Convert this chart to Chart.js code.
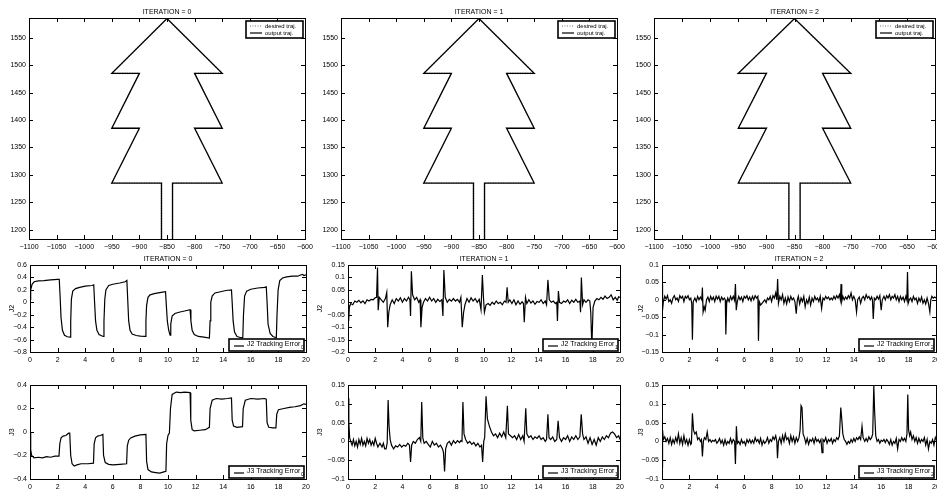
<!DOCTYPE html>
<html>
<head>
<meta charset="utf-8">
<script src="https://cdn.jsdelivr.net/npm/chart.js@4.4.0/dist/chart.umd.min.js"></script>
<style>
  body { margin: 0; width: 937px; height: 492px; overflow: hidden; background: #fff; position: relative; }
  canvas { position: absolute; }
</style>
</head>
<body>
<script>
// ---- data ----
// tree outline (desired path), vertices in (x, y)
const treeX = [-860, -860, -950, -900, -950, -900, -950, -850, -750, -800, -750, -800, -750, -840, -840];
const treeY = [1183, 1285, 1285, 1385, 1385, 1485, 1485, 1585, 1485, 1485, 1385, 1385, 1285, 1285, 1183];

const treeXTicks = [-1100, -1050, -1000, -950, -900, -850, -800, -750, -700, -650, -600];
const treeYTicks = [1200, 1250, 1300, 1350, 1400, 1450, 1500, 1550];
const timeTicks = [0, 2, 4, 6, 8, 10, 12, 14, 16, 18, 20];

const iterations = [0, 1, 2];

// tracking errors: [time, value]
const j2Iter0 = [[0,0.05],[0.05,0.2],[0.15,0.29],[0.3,0.33],[0.6,0.345],[1.0,0.35],[1.5,0.36],[2.0,0.37],[2.12,0.37],[2.18,0.1],[2.25,-0.25],[2.35,-0.45],[2.5,-0.53],[2.7,-0.555],[2.9,-0.56],[2.95,-0.3],[3.0,0.05],[3.1,0.18],[3.3,0.22],[3.6,0.24],[4.0,0.26],[4.5,0.27],[4.62,0.28],[4.68,0.0],[4.75,-0.3],[4.85,-0.45],[5.0,-0.52],[5.3,-0.55],[5.36,-0.3],[5.42,0.05],[5.5,0.2],[5.7,0.27],[6.0,0.29],[6.5,0.31],[6.9,0.33],[7.02,0.35],[7.08,0.05],[7.15,-0.3],[7.25,-0.45],[7.4,-0.51],[7.7,-0.535],[8.0,-0.545],[8.35,-0.55],[8.4,-0.3],[8.45,-0.05],[8.55,0.08],[8.7,0.12],[9.0,0.14],[9.5,0.16],[9.82,0.17],[9.88,-0.05],[9.95,-0.3],[10.05,-0.45],[10.15,-0.53],[10.2,-0.35],[10.3,-0.22],[10.5,-0.18],[10.8,-0.16],[11.2,-0.14],[11.6,-0.12],[11.66,-0.3],[11.75,-0.45],[11.9,-0.52],[12.2,-0.55],[12.6,-0.56],[13.0,-0.575],[13.05,-0.3],[13.1,0.0],[13.2,0.1],[13.4,0.15],[13.8,0.17],[14.2,0.19],[14.6,0.2],[14.65,0.0],[14.72,-0.3],[14.82,-0.48],[15.0,-0.55],[15.3,-0.57],[15.42,-0.57],[15.47,-0.2],[15.55,0.1],[15.7,0.18],[16.0,0.21],[16.5,0.23],[17.0,0.24],[17.12,0.25],[17.18,0.0],[17.25,-0.35],[17.4,-0.5],[17.6,-0.55],[17.85,-0.57],[17.9,-0.2],[17.98,0.2],[18.1,0.35],[18.3,0.39],[18.6,0.41],[19.0,0.42],[19.4,0.42],[19.6,0.44],[19.75,0.45],[19.85,0.43],[20.0,0.44]];

const j3Iter0 = [[0,0.0],[0.05,-0.15],[0.12,-0.2],[0.3,-0.22],[0.6,-0.215],[0.9,-0.22],[1.2,-0.21],[1.5,-0.215],[1.8,-0.205],[2.1,-0.205],[2.16,-0.1],[2.25,-0.05],[2.4,-0.035],[2.6,-0.03],[2.8,-0.01],[2.88,-0.01],[2.95,-0.2],[3.05,-0.27],[3.2,-0.29],[3.4,-0.28],[3.7,-0.27],[4.2,-0.27],[4.6,-0.265],[4.65,-0.1],[4.75,-0.05],[4.9,-0.035],[5.1,-0.03],[5.28,-0.02],[5.33,-0.2],[5.45,-0.26],[5.7,-0.275],[6.0,-0.28],[6.5,-0.275],[7.0,-0.27],[7.05,-0.12],[7.15,-0.07],[7.3,-0.05],[7.6,-0.035],[8.0,-0.025],[8.4,-0.02],[8.45,-0.25],[8.55,-0.32],[8.8,-0.34],[9.1,-0.345],[9.4,-0.35],[9.7,-0.34],[9.85,-0.335],[9.9,-0.1],[10.0,-0.03],[10.1,-0.01],[10.18,0.2],[10.3,0.32],[10.6,0.34],[10.9,0.335],[11.2,0.34],[11.6,0.335],[11.65,0.1],[11.75,0.02],[11.9,0.01],[12.3,0.015],[12.7,0.02],[13.0,0.04],[13.05,0.2],[13.2,0.27],[13.5,0.285],[13.9,0.28],[14.3,0.285],[14.6,0.29],[14.65,0.1],[14.75,0.05],[15.0,0.04],[15.4,0.045],[15.45,0.2],[15.6,0.27],[16.0,0.285],[16.5,0.28],[17.0,0.285],[17.12,0.28],[17.18,0.08],[17.3,0.04],[17.6,0.035],[17.82,0.035],[17.88,0.15],[18.0,0.19],[18.4,0.2],[18.8,0.21],[19.2,0.215],[19.6,0.225],[19.85,0.24],[20,0.235]];

const j2Iter1 = [[0,-0.01],[0.05,-0.075],[0.1,-0.02],[0.2,-0.005],[0.35,-0.01],[0.5,0.005],[0.65,0.0],[0.8,0.008],[0.95,-0.002],[1.1,0.006],[1.25,-0.005],[1.4,0.01],[1.55,0.005],[1.7,0.012],[1.85,0.01],[2.0,0.018],[2.1,0.02],[2.17,0.14],[2.22,-0.032],[2.3,0.02],[2.45,0.01],[2.6,0.0],[2.75,0.015],[2.85,0.04],[2.92,-0.1],[3.0,-0.04],[3.1,-0.01],[3.25,0.01],[3.4,-0.005],[3.55,0.015],[3.7,0.005],[3.85,0.018],[4.0,0.0],[4.15,0.015],[4.3,0.005],[4.45,0.02],[4.55,0.01],[4.6,-0.055],[4.66,0.125],[4.75,0.03],[4.9,0.01],[5.05,0.02],[5.2,0.0],[5.3,0.01],[5.36,-0.1],[5.45,-0.02],[5.55,0.0],[5.7,0.015],[5.85,0.005],[6.0,0.02],[6.15,0.005],[6.3,0.015],[6.45,0.0],[6.6,0.012],[6.75,0.003],[6.9,0.01],[6.98,-0.055],[7.05,0.13],[7.15,0.02],[7.3,0.0],[7.45,0.012],[7.6,0.005],[7.75,0.015],[7.9,0.005],[8.05,0.012],[8.2,0.0],[8.3,0.02],[8.4,-0.1],[8.5,-0.04],[8.6,-0.01],[8.75,0.015],[8.9,0.0],[9.05,0.018],[9.2,0.005],[9.35,0.015],[9.5,0.0],[9.65,0.012],[9.78,-0.03],[9.88,0.11],[9.96,0.02],[10.03,-0.04],[10.15,-0.01],[10.3,-0.005],[10.45,-0.012],[10.6,0.0],[10.75,-0.008],[10.9,0.005],[11.05,-0.005],[11.2,0.0],[11.35,-0.01],[11.5,0.005],[11.62,0.0],[11.7,0.06],[11.78,0.0],[11.9,0.01],[12.05,-0.005],[12.2,0.01],[12.35,-0.01],[12.5,0.005],[12.65,-0.008],[12.8,0.002],[12.9,-0.005],[12.96,-0.08],[13.05,0.02],[13.15,-0.005],[13.3,0.01],[13.45,-0.003],[13.6,0.005],[13.75,-0.008],[13.9,0.003],[14.05,0.0],[14.2,0.01],[14.35,-0.005],[14.5,0.005],[14.6,-0.01],[14.7,0.09],[14.8,0.01],[14.95,0.0],[15.1,0.005],[15.25,-0.005],[15.35,0.0],[15.4,-0.075],[15.47,0.045],[15.55,0.0],[15.7,-0.005],[15.85,0.005],[16.0,0.0],[16.15,0.01],[16.3,-0.005],[16.45,0.008],[16.6,0.0],[16.75,0.012],[16.9,0.0],[17.05,0.005],[17.1,-0.04],[17.16,0.1],[17.25,-0.01],[17.35,0.01],[17.5,0.0],[17.65,0.01],[17.78,0.005],[17.85,-0.04],[17.93,-0.18],[18.02,-0.02],[18.15,0.005],[18.3,0.015],[18.45,0.01],[18.6,0.02],[18.75,0.012],[18.9,0.025],[19.05,0.015],[19.2,0.02],[19.35,0.03],[19.5,0.01],[19.65,0.02],[19.8,0.008],[19.9,0.022],[20.0,0.02]];

const j3Iter1 = [[0,0.115],[0.06,0.05],[0.12,0.01],[0.2,0.0],[0.3,-0.01],[0.4,0.005],[0.5,-0.012],[0.6,0.0],[0.7,-0.015],[0.8,0.005],[0.9,-0.008],[1.0,0.008],[1.1,-0.01],[1.2,0.0],[1.3,-0.012],[1.4,0.008],[1.5,-0.005],[1.6,0.005],[1.7,-0.01],[1.8,0.0],[1.9,-0.01],[2.0,0.008],[2.1,-0.005],[2.2,-0.015],[2.35,-0.005],[2.5,-0.015],[2.6,-0.005],[2.7,-0.02],[2.8,-0.02],[2.88,-0.005],[2.95,0.11],[3.02,0.04],[3.1,0.005],[3.2,-0.01],[3.35,-0.02],[3.5,-0.012],[3.65,-0.015],[3.8,-0.008],[3.95,-0.015],[4.1,-0.01],[4.25,-0.013],[4.4,-0.005],[4.52,-0.01],[4.6,-0.055],[4.68,-0.01],[4.8,0.0],[4.95,-0.005],[5.1,0.005],[5.25,0.01],[5.35,0.0],[5.42,0.105],[5.5,0.01],[5.6,-0.005],[5.75,0.0],[5.9,-0.008],[6.05,-0.015],[6.2,0.0],[6.35,-0.01],[6.5,-0.005],[6.65,-0.015],[6.8,-0.01],[6.95,-0.02],[7.02,-0.03],[7.1,-0.08],[7.18,-0.02],[7.3,-0.005],[7.45,0.0],[7.6,-0.01],[7.75,0.002],[7.9,-0.005],[8.05,0.002],[8.2,-0.003],[8.3,0.002],[8.38,0.0],[8.45,0.105],[8.53,0.02],[8.65,0.005],[8.8,-0.005],[8.95,0.0],[9.1,-0.008],[9.25,-0.003],[9.4,-0.012],[9.55,-0.005],[9.7,-0.015],[9.82,-0.01],[9.9,-0.055],[9.98,0.0],[10.05,0.01],[10.15,0.12],[10.25,0.06],[10.4,0.04],[10.55,0.025],[10.7,0.015],[10.85,0.02],[11.0,0.01],[11.15,0.022],[11.3,0.012],[11.45,0.025],[11.6,0.01],[11.72,0.095],[11.8,0.02],[11.95,0.015],[12.1,0.01],[12.25,0.015],[12.4,0.005],[12.55,0.018],[12.7,0.005],[12.85,0.015],[12.95,0.0],[13.07,0.088],[13.15,0.02],[13.3,0.01],[13.45,0.015],[13.6,0.005],[13.75,0.012],[13.9,0.008],[14.05,0.015],[14.2,0.005],[14.35,0.01],[14.5,0.0],[14.6,0.005],[14.7,0.072],[14.78,0.01],[14.9,0.005],[15.05,0.012],[15.2,0.0],[15.35,0.005],[15.45,0.055],[15.55,0.01],[15.7,0.0],[15.85,0.01],[16.0,0.005],[16.15,0.015],[16.3,0.0],[16.45,0.012],[16.6,0.005],[16.75,0.015],[16.9,0.005],[17.05,0.012],[17.15,0.072],[17.25,0.02],[17.35,0.005],[17.5,0.012],[17.65,-0.005],[17.8,0.01],[17.95,-0.008],[18.1,0.005],[18.25,-0.01],[18.4,0.01],[18.55,0.0],[18.7,0.012],[18.85,0.005],[19.0,0.015],[19.15,0.01],[19.3,0.022],[19.45,0.025],[19.6,0.02],[19.75,0.01],[19.9,0.015],[20.0,0.005]];

const j2Iter2 = [[0,0.045],[0.04,-0.03],[0.1,-0.005],[0.2,0.01],[0.3,0.002],[0.4,0.012],[0.5,-0.005],[0.6,0.0],[0.7,-0.01],[0.8,0.005],[0.9,0.012],[1.0,0.0],[1.1,0.005],[1.2,-0.005],[1.3,0.012],[1.4,0.005],[1.5,0.01],[1.6,-0.005],[1.7,0.01],[1.8,0.005],[1.9,0.012],[2.0,0.0],[2.1,0.005],[2.17,-0.01],[2.22,-0.115],[2.28,-0.005],[2.4,0.005],[2.5,-0.005],[2.6,0.01],[2.7,0.0],[2.8,0.008],[2.9,0.0],[2.95,0.035],[3.0,-0.035],[3.08,-0.02],[3.15,-0.03],[3.25,0.0],[3.35,0.008],[3.45,-0.005],[3.55,0.01],[3.65,0.0],[3.75,0.008],[3.85,-0.005],[3.95,0.01],[4.05,0.002],[4.15,0.01],[4.25,-0.005],[4.35,0.008],[4.45,0.0],[4.55,0.005],[4.62,0.0],[4.66,-0.1],[4.72,-0.01],[4.8,0.005],[4.9,-0.005],[5.0,0.01],[5.1,0.0],[5.2,0.01],[5.3,-0.002],[5.36,0.045],[5.42,-0.03],[5.5,-0.005],[5.6,0.01],[5.7,0.0],[5.8,0.008],[5.9,-0.005],[6.0,0.01],[6.1,0.005],[6.2,0.012],[6.3,0.0],[6.4,0.008],[6.5,-0.003],[6.6,0.01],[6.7,0.0],[6.8,0.012],[6.9,0.005],[7.0,0.01],[7.04,-0.118],[7.1,-0.005],[7.2,-0.015],[7.3,-0.01],[7.4,-0.005],[7.5,0.0],[7.6,-0.008],[7.7,0.005],[7.8,0.0],[7.9,0.01],[8.0,-0.005],[8.1,0.012],[8.2,0.005],[8.3,0.02],[8.38,0.0],[8.44,0.06],[8.5,-0.01],[8.6,0.01],[8.7,0.0],[8.8,0.015],[8.9,-0.01],[9.0,0.005],[9.1,-0.012],[9.2,0.008],[9.3,-0.005],[9.4,0.01],[9.5,0.0],[9.6,0.005],[9.7,-0.005],[9.8,-0.04],[9.88,0.0],[9.95,0.01],[10.05,-0.012],[10.15,0.005],[10.25,-0.005],[10.35,0.01],[10.45,-0.02],[10.55,0.0],[10.65,-0.01],[10.75,0.008],[10.85,-0.015],[10.95,0.005],[11.05,-0.005],[11.15,0.01],[11.25,0.0],[11.35,0.005],[11.45,-0.005],[11.55,0.01],[11.65,-0.025],[11.75,0.005],[11.85,0.0],[11.95,0.01],[12.05,0.003],[12.15,0.008],[12.25,0.0],[12.35,0.005],[12.45,0.0],[12.55,0.01],[12.65,0.002],[12.75,0.012],[12.85,0.005],[12.95,0.015],[13.02,0.0],[13.07,0.045],[13.12,-0.005],[13.2,0.01],[13.3,0.0],[13.4,0.008],[13.5,0.002],[13.6,0.012],[13.7,0.005],[13.8,0.02],[13.9,0.0],[14.0,0.01],[14.1,0.0],[14.2,-0.035],[14.28,0.0],[14.4,0.008],[14.5,-0.01],[14.6,0.005],[14.7,0.01],[14.8,0.0],[14.9,0.015],[15.0,0.005],[15.1,0.01],[15.2,0.0],[15.3,0.008],[15.36,0.0],[15.42,-0.055],[15.5,0.005],[15.6,0.0],[15.7,0.01],[15.8,0.002],[15.9,0.012],[16.0,-0.03],[16.08,0.0],[16.2,0.01],[16.3,0.0],[16.4,0.012],[16.5,0.005],[16.6,0.015],[16.7,0.0],[16.8,0.01],[16.9,0.005],[17.0,0.015],[17.1,0.0],[17.2,0.01],[17.3,-0.005],[17.4,0.01],[17.5,0.0],[17.6,0.008],[17.7,-0.005],[17.8,0.01],[17.87,0.0],[17.92,0.08],[17.97,-0.01],[18.05,0.0],[18.15,0.005],[18.25,-0.005],[18.35,0.01],[18.45,0.0],[18.55,0.005],[18.65,-0.01],[18.75,0.005],[18.85,-0.005],[18.95,0.008],[19.05,-0.01],[19.15,0.0],[19.25,-0.012],[19.35,0.005],[19.45,-0.01],[19.55,-0.035],[19.62,0.0],[19.7,0.01],[19.8,0.005],[19.9,0.008],[20.0,0.005]];

const j3Iter2 = [[0,-0.068],[0.04,0.03],[0.1,0.005],[0.2,0.012],[0.3,0.0],[0.4,0.008],[0.5,-0.005],[0.6,0.01],[0.7,-0.008],[0.8,0.005],[0.9,-0.005],[1.0,0.01],[1.1,-0.002],[1.2,0.02],[1.3,-0.005],[1.4,0.01],[1.5,-0.008],[1.6,0.015],[1.7,-0.005],[1.8,0.005],[1.9,-0.01],[2.0,0.005],[2.1,-0.008],[2.15,-0.005],[2.22,0.075],[2.3,0.03],[2.4,0.02],[2.5,0.025],[2.6,0.005],[2.7,0.01],[2.8,0.0],[2.88,0.005],[2.95,-0.04],[3.02,0.0],[3.1,0.01],[3.2,0.005],[3.3,0.025],[3.4,0.0],[3.5,0.005],[3.6,-0.002],[3.7,0.003],[3.8,0.0],[3.9,0.005],[4.0,-0.005],[4.1,0.0],[4.2,0.008],[4.3,-0.005],[4.4,0.003],[4.5,-0.01],[4.6,0.005],[4.7,-0.008],[4.8,0.0],[4.9,-0.005],[5.0,0.008],[5.1,-0.005],[5.2,0.005],[5.3,0.0],[5.36,-0.06],[5.43,0.04],[5.5,-0.005],[5.6,0.0],[5.7,-0.008],[5.8,0.005],[5.9,-0.005],[6.0,0.0],[6.1,-0.01],[6.2,0.005],[6.3,-0.003],[6.4,0.005],[6.5,-0.005],[6.6,0.003],[6.7,-0.005],[6.8,0.01],[6.9,0.0],[7.0,0.005],[7.1,-0.005],[7.2,0.008],[7.3,-0.01],[7.4,0.002],[7.5,-0.005],[7.6,0.0],[7.7,0.01],[7.8,-0.005],[7.9,0.005],[8.0,0.0],[8.1,0.012],[8.2,0.005],[8.3,0.015],[8.38,0.0],[8.43,-0.045],[8.5,0.0],[8.6,0.01],[8.7,-0.005],[8.8,0.015],[8.9,0.0],[9.0,0.02],[9.1,0.005],[9.2,0.01],[9.3,-0.005],[9.4,0.015],[9.5,0.0],[9.6,0.012],[9.7,-0.005],[9.8,0.01],[9.9,0.0],[10.0,0.01],[10.08,0.03],[10.15,0.095],[10.22,0.09],[10.3,0.02],[10.4,0.01],[10.5,-0.005],[10.6,0.008],[10.7,-0.008],[10.8,0.005],[10.9,0.0],[11.0,0.008],[11.1,-0.005],[11.2,0.01],[11.3,0.0],[11.4,0.005],[11.5,-0.003],[11.6,0.005],[11.68,-0.03],[11.75,0.005],[11.85,0.0],[11.95,0.01],[12.05,-0.005],[12.15,0.005],[12.25,0.0],[12.35,0.008],[12.45,-0.005],[12.55,0.005],[12.65,0.0],[12.75,0.01],[12.85,0.005],[12.95,0.015],[13.05,0.09],[13.12,0.06],[13.2,0.02],[13.3,0.005],[13.4,0.0],[13.5,-0.008],[13.6,0.0],[13.7,-0.005],[13.8,0.005],[13.9,-0.002],[14.0,0.008],[14.1,0.0],[14.2,0.01],[14.3,0.005],[14.4,0.012],[14.5,0.005],[14.6,0.04],[14.68,0.01],[14.8,0.0],[14.9,0.008],[15.0,0.0],[15.1,0.012],[15.2,0.005],[15.3,0.01],[15.38,0.02],[15.46,0.148],[15.52,0.08],[15.6,0.015],[15.7,0.0],[15.8,0.005],[15.9,-0.005],[16.0,0.003],[16.1,0.0],[16.2,0.005],[16.3,-0.003],[16.4,0.005],[16.5,0.0],[16.6,-0.008],[16.7,0.005],[16.8,-0.01],[16.9,0.0],[17.0,-0.005],[17.1,0.008],[17.2,-0.02],[17.3,0.005],[17.4,0.0],[17.5,0.01],[17.6,0.002],[17.7,0.008],[17.8,0.0],[17.88,0.02],[17.94,0.125],[18.0,0.03],[18.08,0.015],[18.15,0.025],[18.25,0.005],[18.35,0.015],[18.45,0.0],[18.55,0.01],[18.65,-0.005],[18.75,0.008],[18.85,-0.003],[18.95,0.005],[19.05,0.0],[19.15,0.01],[19.25,-0.01],[19.35,0.005],[19.45,-0.02],[19.55,0.0],[19.65,-0.005],[19.75,0.005],[19.85,-0.01],[19.95,0.01],[20.0,0.005]];

const j2Series = [j2Iter0, j2Iter1, j2Iter2];
const j3Series = [j3Iter0, j3Iter1, j3Iter2];
const j2YTicks = [
  [-0.8, -0.6, -0.4, -0.2, 0, 0.2, 0.4, 0.6],
  [-0.2, -0.15, -0.1, -0.05, 0, 0.05, 0.1, 0.15],
  [-0.15, -0.1, -0.05, 0, 0.05, 0.1]
];
const j3YTicks = [
  [-0.4, -0.2, 0, 0.2, 0.4],
  [-0.1, -0.05, 0, 0.05, 0.1, 0.15],
  [-0.1, -0.05, 0, 0.05, 0.1, 0.15]
];

// ---- layout ----
Chart.defaults.font.family = "'Liberation Sans', Arial, sans-serif";
Chart.defaults.font.size = 7;
Chart.defaults.color = '#000';

const ML = 40, MT = 14, MR = 14, MB = 16;
// plot boxes [left, top, right, bottom] per column
const treeBoxes = [[29, 18, 305, 239], [341, 18, 617, 239], [654, 18, 935, 239]];
const j2Boxes = [[30, 265, 306, 352], [348, 265, 620, 352], [662, 265, 936, 352]];
const j3Boxes = [[30, 385, 306, 479], [348, 385, 620, 479], [662, 385, 936, 479]];
const ylabGap = [18, 28, 21];

function fmt(v) {
  return String(Math.round(v * 1000) / 1000).replace('-', '\u2212');
}

const matlabFrame = {
  id: 'matlabFrame',
  afterDraw(chart, args, opts) {
    const ctx = chart.ctx;
    const a = chart.chartArea;
    const xs = chart.scales.x, ys = chart.scales.y;
    ctx.save();
    ctx.strokeStyle = '#000';
    ctx.lineWidth = 1;
    ctx.strokeRect(Math.round(a.left) + 0.5, Math.round(a.top) + 0.5,
      Math.round(a.right - a.left), Math.round(a.bottom - a.top));
    ctx.beginPath();
    xs.ticks.forEach(t => {
      const px = Math.round(xs.getPixelForValue(t.value)) + 0.5;
      ctx.moveTo(px, a.bottom); ctx.lineTo(px, a.bottom - 4);
      ctx.moveTo(px, a.top); ctx.lineTo(px, a.top + 4);
    });
    ys.ticks.forEach(t => {
      const py = Math.round(ys.getPixelForValue(t.value)) + 0.5;
      ctx.moveTo(a.left, py); ctx.lineTo(a.left + 4, py);
      ctx.moveTo(a.right, py); ctx.lineTo(a.right - 4, py);
    });
    ctx.stroke();

    // title
    if (opts.title) {
      ctx.fillStyle = '#000';
      ctx.font = "7px 'Liberation Sans', Arial, sans-serif";
      ctx.textAlign = 'center';
      ctx.textBaseline = 'bottom';
      ctx.fillText(opts.title, (a.left + a.right) / 2, a.top - 2);
    }

    // legend box
    if (opts.legend === 'tree') {
      const w = 57, h = 17;
      const bx = a.right - 2 - w, by = a.top + 3;
      ctx.fillStyle = '#fff';
      ctx.fillRect(bx, by, w, h);
      ctx.lineWidth = 1.6;
      ctx.strokeRect(bx, by, w, h);
      ctx.lineWidth = 1;
      ctx.strokeStyle = '#777';
      ctx.setLineDash([1, 1.5]);
      ctx.beginPath(); ctx.moveTo(bx + 4, by + 5); ctx.lineTo(bx + 16, by + 5); ctx.stroke();
      ctx.setLineDash([]);
      ctx.strokeStyle = '#000';
      ctx.lineWidth = 1.2;
      ctx.beginPath(); ctx.moveTo(bx + 4, by + 12); ctx.lineTo(bx + 16, by + 12); ctx.stroke();
      ctx.fillStyle = '#000';
      ctx.font = "6px 'Liberation Sans', Arial, sans-serif";
      ctx.textAlign = 'left';
      ctx.textBaseline = 'middle';
      ctx.fillText('desired traj.', bx + 19, by + 5);
      ctx.fillText('output traj.', bx + 19, by + 12);
    } else if (opts.legend) {
      const w = 75, h = 12;
      const bx = a.right - 2 - w, by = a.bottom - 1 - h;
      ctx.fillStyle = '#fff';
      ctx.fillRect(bx, by, w, h);
      ctx.strokeStyle = '#000';
      ctx.lineWidth = 1.6;
      ctx.strokeRect(bx, by, w, h);
      ctx.lineWidth = 1.2;
      ctx.beginPath(); ctx.moveTo(bx + 5, by + 7); ctx.lineTo(bx + 15, by + 7); ctx.stroke();
      ctx.fillStyle = '#000';
      ctx.font = "7px 'Liberation Sans', Arial, sans-serif";
      ctx.textAlign = 'left';
      ctx.textBaseline = 'middle';
      const txt = opts.legend.text;
      ctx.fillText(txt, bx + 18, by + 5.5);
      const tw = ctx.measureText(txt).width;
      ctx.font = "5px 'Liberation Sans', Arial, sans-serif";
      ctx.fillText(opts.legend.sub, bx + 18 + tw + 0.5, by + 8.5);
    }
    ctx.restore();
  }
};

function makePanel(box, datasets, xr, xt, yr, yt, ylabel, gap, frameOpts) {
  const w = box[2] - box[0], h = box[3] - box[1];
  const c = document.createElement('canvas');
  c.width = w + ML + MR;
  c.height = h + MT + MB;
  c.style.left = (box[0] - ML) + 'px';
  c.style.top = (box[1] - MT) + 'px';
  document.body.appendChild(c);
  new Chart(c, {
    type: 'line',
    data: { datasets: datasets },
    options: {
      responsive: false,
      animation: false,
      devicePixelRatio: 1,
      layout: { padding: { top: MT, right: MR, left: 0, bottom: 0 } },
      elements: { point: { radius: 0 }, line: { tension: 0 } },
      plugins: { legend: { display: false }, tooltip: { enabled: false }, matlabFrame: frameOpts },
      scales: {
        x: {
          type: 'linear', min: xr[0], max: xr[1],
          grid: { display: false, drawTicks: false },
          border: { display: false },
          afterBuildTicks: s => { s.ticks = xt.map(v => ({ value: v })); },
          afterFit: s => { s.height = MB; },
          ticks: { padding: 4, maxRotation: 0, autoSkip: false, callback: v => fmt(v) }
        },
        y: {
          type: 'linear', min: yr[0], max: yr[1],
          grid: { display: false, drawTicks: false },
          border: { display: false },
          afterBuildTicks: s => { s.ticks = yt.map(v => ({ value: v })); },
          afterFit: s => { s.width = ML; },
          ticks: { padding: 3, autoSkip: false, callback: v => fmt(v) },
          title: {
            display: !!ylabel, text: ylabel, color: '#000',
            font: { size: 7 }, padding: { top: ML - gap - 4.2, bottom: 0 }
          }
        }
      }
    },
    plugins: [matlabFrame]
  });
}

iterations.forEach((it, i) => {
  const pts = treeX.map((x, k) => ({ x: x, y: treeY[k] }));
  makePanel(treeBoxes[i], [
    { label: 'output traj.', data: pts, borderColor: '#000', borderWidth: 1.3, order: 0 },
    { label: 'desired traj.', data: pts, borderColor: '#aaa', borderWidth: 1.6, borderDash: [1, 1.5], order: 1 }
  ], [-1100, -600], treeXTicks, [1183, 1586], treeYTicks, '', 0,
  { title: 'ITERATION = ' + it, legend: 'tree' });

  makePanel(j2Boxes[i], [
    { label: 'J2 Tracking Error', data: j2Series[i].map(p => ({ x: p[0], y: p[1] })), borderColor: '#000', borderWidth: 1.2 }
  ], [0, 20], timeTicks, [j2YTicks[i][0], j2YTicks[i][j2YTicks[i].length - 1]], j2YTicks[i], 'J2', ylabGap[i],
  { title: 'ITERATION = ' + it, legend: { text: 'J2 Tracking Error', sub: String(it) } });

  makePanel(j3Boxes[i], [
    { label: 'J3 Tracking Error', data: j3Series[i].map(p => ({ x: p[0], y: p[1] })), borderColor: '#000', borderWidth: 1.2 }
  ], [0, 20], timeTicks, [j3YTicks[i][0], j3YTicks[i][j3YTicks[i].length - 1]], j3YTicks[i], 'J3', ylabGap[i],
  { title: '', legend: { text: 'J3 Tracking Error', sub: String(it) } });
});
</script>
</body>
</html>
